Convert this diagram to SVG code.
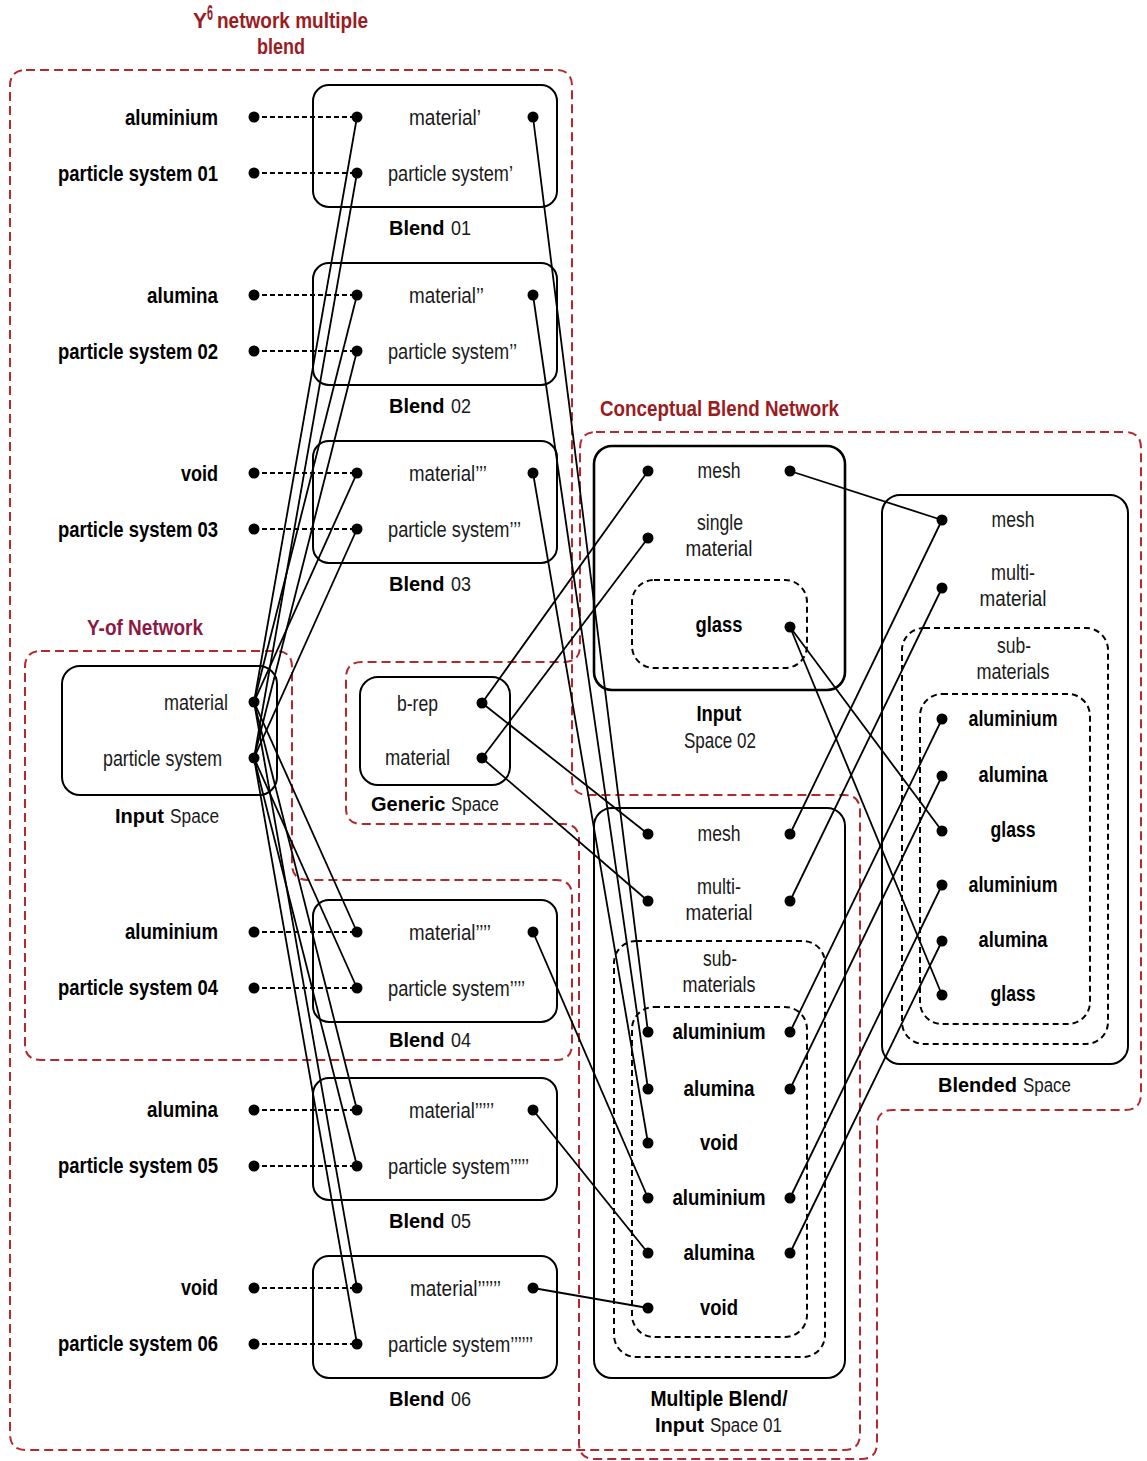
<svg xmlns="http://www.w3.org/2000/svg" width="1147" height="1461" viewBox="0 0 1147 1461">
<style>
text{font-family:"Liberation Sans",Arial,sans-serif;font-size:22px;fill:#1a1a1a}
.b{font-weight:bold;fill:#000}
.t{fill:#9b1c1f;font-weight:bold}
.p{fill:#8a1a45;font-weight:bold}
.m{text-anchor:middle}
.e{text-anchor:end}
.s{font-size:20px}
.red{fill:none;stroke:#b3292e;stroke-width:2;stroke-dasharray:9 5}
.box{fill:none;stroke:#000;stroke-width:2}
.box2{fill:none;stroke:#000;stroke-width:2.6}
.dbox{fill:none;stroke:#000;stroke-width:2;stroke-dasharray:6 4}
.c line{stroke:#000;stroke-width:1.8}
.dl{stroke:#000;stroke-width:1.6;stroke-dasharray:5 3}
circle{fill:#000}
</style>
<rect width="1147" height="1461" fill="#fff"/>

<g id="outlines">
<path class="red" d="M 26,70 H 556 Q 572,70 572,86 V 779 Q 572,795 588,795 H 844 Q 860,795 860,811 V 1434 Q 860,1450 844,1450 H 26 Q 10,1450 10,1434 V 86 Q 10,70 26,70 Z"/>
<path class="red" d="M 596,432 H 1125 Q 1141,432 1141,448 V 1094 Q 1141,1110 1125,1110 H 893 Q 877,1110 877,1126 V 1443 Q 877,1459 861,1459 H 595 Q 579,1459 579,1443 V 840 Q 579,824 563,824 H 362 Q 346,824 346,808 V 678 Q 346,662 362,662 H 564 Q 580,662 580,646 V 448 Q 580,432 596,432 Z"/>
<path class="red" d="M 41,651 H 276 Q 292,651 292,667 V 864 Q 292,880 308,880 H 556 Q 572,880 572,896 V 1044 Q 572,1060 556,1060 H 41 Q 25,1060 25,1044 V 667 Q 25,651 41,651 Z"/>
<text class="t" x="193" y="28" textLength="14" lengthAdjust="spacingAndGlyphs">Y</text>
<text class="t" x="207" y="20" font-size="11" textLength="6" lengthAdjust="spacingAndGlyphs">6</text>
<text class="t" x="217" y="28" textLength="151" lengthAdjust="spacingAndGlyphs">network multiple</text>
<text class="t" x="257" y="54" textLength="48" lengthAdjust="spacingAndGlyphs">blend</text>
<text class="p" x="87" y="635" textLength="116" lengthAdjust="spacingAndGlyphs">Y-of Network</text>
<text class="t" x="600" y="416" textLength="239" lengthAdjust="spacingAndGlyphs">Conceptual Blend Network</text>
</g>

<g id="inputs-left">
<text class="b e" x="218" y="125" textLength="93" lengthAdjust="spacingAndGlyphs">aluminium</text>
<text class="b e" x="218" y="181" textLength="160" lengthAdjust="spacingAndGlyphs">particle system 01</text>
<text class="b e" x="218" y="303" textLength="71" lengthAdjust="spacingAndGlyphs">alumina</text>
<text class="b e" x="218" y="359" textLength="160" lengthAdjust="spacingAndGlyphs">particle system 02</text>
<text class="b e" x="218" y="481" textLength="37" lengthAdjust="spacingAndGlyphs">void</text>
<text class="b e" x="218" y="537" textLength="160" lengthAdjust="spacingAndGlyphs">particle system 03</text>
<text class="b e" x="218" y="939" textLength="93" lengthAdjust="spacingAndGlyphs">aluminium</text>
<text class="b e" x="218" y="995" textLength="160" lengthAdjust="spacingAndGlyphs">particle system 04</text>
<text class="b e" x="218" y="1117" textLength="71" lengthAdjust="spacingAndGlyphs">alumina</text>
<text class="b e" x="218" y="1173" textLength="160" lengthAdjust="spacingAndGlyphs">particle system 05</text>
<text class="b e" x="218" y="1295" textLength="37" lengthAdjust="spacingAndGlyphs">void</text>
<text class="b e" x="218" y="1351" textLength="160" lengthAdjust="spacingAndGlyphs">particle system 06</text>
</g>

<g id="blend01">
<rect class="box" x="313" y="85" width="244" height="122" rx="16"/>
<text x="409" y="125" textLength="72" lengthAdjust="spacingAndGlyphs">material’</text>
<text x="388" y="181" textLength="125" lengthAdjust="spacingAndGlyphs">particle system’</text>
<text class="b s" x="389" y="235">Blend</text>
<text class="s" x="451" y="235" textLength="20" lengthAdjust="spacingAndGlyphs">01</text>
</g>
<g id="blend02">
<rect class="box" x="313" y="263" width="244" height="122" rx="16"/>
<text x="409" y="303" textLength="75" lengthAdjust="spacingAndGlyphs">material’’</text>
<text x="388" y="359" textLength="129" lengthAdjust="spacingAndGlyphs">particle system’’</text>
<text class="b s" x="389" y="413">Blend</text>
<text class="s" x="451" y="413" textLength="20" lengthAdjust="spacingAndGlyphs">02</text>
</g>
<g id="blend03">
<rect class="box" x="313" y="441" width="244" height="122" rx="16"/>
<text x="409" y="481" textLength="78" lengthAdjust="spacingAndGlyphs">material’’’</text>
<text x="388" y="537" textLength="133" lengthAdjust="spacingAndGlyphs">particle system’’’</text>
<text class="b s" x="389" y="591">Blend</text>
<text class="s" x="451" y="591" textLength="20" lengthAdjust="spacingAndGlyphs">03</text>
</g>
<g id="blend04">
<rect class="box" x="313" y="900" width="244" height="122" rx="16"/>
<text x="409" y="940" textLength="82" lengthAdjust="spacingAndGlyphs">material’’’’</text>
<text x="388" y="996" textLength="137" lengthAdjust="spacingAndGlyphs">particle system’’’’</text>
<text class="b s" x="389" y="1047">Blend</text>
<text class="s" x="451" y="1047" textLength="20" lengthAdjust="spacingAndGlyphs">04</text>
</g>
<g id="blend05">
<rect class="box" x="313" y="1078" width="244" height="122" rx="16"/>
<text x="409" y="1118" textLength="85" lengthAdjust="spacingAndGlyphs">material’’’’’</text>
<text x="388" y="1174" textLength="141" lengthAdjust="spacingAndGlyphs">particle system’’’’’</text>
<text class="b s" x="389" y="1228">Blend</text>
<text class="s" x="451" y="1228" textLength="20" lengthAdjust="spacingAndGlyphs">05</text>
</g>
<g id="blend06">
<rect class="box" x="313" y="1256" width="244" height="122" rx="16"/>
<text x="410" y="1296" textLength="91" lengthAdjust="spacingAndGlyphs">material’’’’’’</text>
<text x="388" y="1352" textLength="145" lengthAdjust="spacingAndGlyphs">particle system’’’’’’</text>
<text class="b s" x="389" y="1406">Blend</text>
<text class="s" x="451" y="1406" textLength="20" lengthAdjust="spacingAndGlyphs">06</text>
</g>

<g id="input-space">
<rect class="box" x="62" y="666" width="215" height="129" rx="18"/>
<text x="164" y="710" textLength="64" lengthAdjust="spacingAndGlyphs">material</text>
<text x="103" y="766" textLength="119" lengthAdjust="spacingAndGlyphs">particle system</text>
<text class="b s" x="115" y="823">Input</text>
<text class="s" x="170" y="823" textLength="49" lengthAdjust="spacingAndGlyphs">Space</text>
</g>

<g id="generic-space">
<rect class="box" x="360" y="677" width="150" height="108" rx="18"/>
<text x="397" y="711" textLength="41" lengthAdjust="spacingAndGlyphs">b-rep</text>
<text x="385" y="765" textLength="65" lengthAdjust="spacingAndGlyphs">material</text>
<text class="b s" x="371" y="811">Generic</text>
<text class="s" x="451" y="811" textLength="48" lengthAdjust="spacingAndGlyphs">Space</text>
</g>

<g id="input-space-02">
<rect class="box2" x="594" y="446" width="251" height="244" rx="18"/>
<text class="m" x="719" y="478" textLength="43" lengthAdjust="spacingAndGlyphs">mesh</text>
<text class="m" x="720" y="530" textLength="46" lengthAdjust="spacingAndGlyphs">single</text>
<text class="m" x="719" y="556" textLength="67" lengthAdjust="spacingAndGlyphs">material</text>
<rect class="dbox" x="632" y="580" width="175" height="88" rx="22"/>
<text class="b m" x="719" y="632" textLength="47" lengthAdjust="spacingAndGlyphs">glass</text>
<text class="b m" x="719" y="721" textLength="45" lengthAdjust="spacingAndGlyphs">Input</text>
<text class="m" x="720" y="748" textLength="72" lengthAdjust="spacingAndGlyphs">Space 02</text>
</g>

<g id="multiple-blend">
<rect class="box" x="594" y="808" width="251" height="570" rx="18"/>
<text class="m" x="719" y="841" textLength="43" lengthAdjust="spacingAndGlyphs">mesh</text>
<text class="m" x="719" y="894" textLength="44" lengthAdjust="spacingAndGlyphs">multi-</text>
<text class="m" x="719" y="920" textLength="67" lengthAdjust="spacingAndGlyphs">material</text>
<rect class="dbox" x="614" y="941" width="211" height="416" rx="22"/>
<text class="m" x="720" y="966" textLength="34" lengthAdjust="spacingAndGlyphs">sub-</text>
<text class="m" x="719" y="992" textLength="73" lengthAdjust="spacingAndGlyphs">materials</text>
<rect class="dbox" x="632" y="1007" width="175" height="330" rx="22"/>
<text class="b m" x="719" y="1039" textLength="93" lengthAdjust="spacingAndGlyphs">aluminium</text>
<text class="b m" x="719" y="1096" textLength="71" lengthAdjust="spacingAndGlyphs">alumina</text>
<text class="b m" x="719" y="1150" textLength="38" lengthAdjust="spacingAndGlyphs">void</text>
<text class="b m" x="719" y="1205" textLength="93" lengthAdjust="spacingAndGlyphs">aluminium</text>
<text class="b m" x="719" y="1260" textLength="71" lengthAdjust="spacingAndGlyphs">alumina</text>
<text class="b m" x="719" y="1315" textLength="38" lengthAdjust="spacingAndGlyphs">void</text>
<text class="b m" x="719" y="1406" textLength="137" lengthAdjust="spacingAndGlyphs">Multiple Blend/</text>
<text class="b s" x="655" y="1432">Input</text>
<text class="s" x="710" y="1432" textLength="72" lengthAdjust="spacingAndGlyphs">Space 01</text>
</g>

<g id="blended-space">
<rect class="box" x="882" y="495" width="246" height="569" rx="18"/>
<text class="m" x="1013" y="527" textLength="43" lengthAdjust="spacingAndGlyphs">mesh</text>
<text class="m" x="1013" y="580" textLength="44" lengthAdjust="spacingAndGlyphs">multi-</text>
<text class="m" x="1013" y="606" textLength="67" lengthAdjust="spacingAndGlyphs">material</text>
<rect class="dbox" x="902" y="628" width="206" height="416" rx="22"/>
<text class="m" x="1014" y="653" textLength="34" lengthAdjust="spacingAndGlyphs">sub-</text>
<text class="m" x="1013" y="679" textLength="73" lengthAdjust="spacingAndGlyphs">materials</text>
<rect class="dbox" x="920" y="694" width="170" height="330" rx="22"/>
<text class="b m" x="1013" y="726" textLength="89" lengthAdjust="spacingAndGlyphs">aluminium</text>
<text class="b m" x="1013" y="782" textLength="69" lengthAdjust="spacingAndGlyphs">alumina</text>
<text class="b m" x="1013" y="837" textLength="45" lengthAdjust="spacingAndGlyphs">glass</text>
<text class="b m" x="1013" y="892" textLength="89" lengthAdjust="spacingAndGlyphs">aluminium</text>
<text class="b m" x="1013" y="947" textLength="69" lengthAdjust="spacingAndGlyphs">alumina</text>
<text class="b m" x="1013" y="1001" textLength="45" lengthAdjust="spacingAndGlyphs">glass</text>
<text class="b s" x="938" y="1092">Blended</text>
<text class="s" x="1023" y="1092" textLength="48" lengthAdjust="spacingAndGlyphs">Space</text>
</g>

<g id="connectors" class="c">
<line class="dl" x1="254" y1="117" x2="357" y2="117"/>
<line class="dl" x1="254" y1="173" x2="357" y2="173"/>
<line class="dl" x1="254" y1="295" x2="357" y2="295"/>
<line class="dl" x1="254" y1="351" x2="357" y2="351"/>
<line class="dl" x1="254" y1="473" x2="357" y2="473"/>
<line class="dl" x1="254" y1="529" x2="357" y2="529"/>
<line class="dl" x1="254" y1="932" x2="357" y2="932"/>
<line class="dl" x1="254" y1="988" x2="357" y2="988"/>
<line class="dl" x1="254" y1="1110" x2="357" y2="1110"/>
<line class="dl" x1="254" y1="1166" x2="357" y2="1166"/>
<line class="dl" x1="254" y1="1288" x2="357" y2="1288"/>
<line class="dl" x1="254" y1="1344" x2="357" y2="1344"/>

<line x1="254" y1="702" x2="357" y2="117"/>
<line x1="254" y1="702" x2="357" y2="295"/>
<line x1="254" y1="702" x2="357" y2="473"/>
<line x1="254" y1="702" x2="357" y2="932"/>
<line x1="254" y1="702" x2="357" y2="1110"/>
<line x1="254" y1="702" x2="357" y2="1288"/>
<line x1="254" y1="758" x2="357" y2="173"/>
<line x1="254" y1="758" x2="357" y2="351"/>
<line x1="254" y1="758" x2="357" y2="529"/>
<line x1="254" y1="758" x2="357" y2="988"/>
<line x1="254" y1="758" x2="357" y2="1166"/>
<line x1="254" y1="758" x2="357" y2="1344"/>

<line x1="533" y1="117" x2="648" y2="1032"/>
<line x1="533" y1="295" x2="648" y2="1089"/>
<line x1="533" y1="473" x2="648" y2="1143"/>
<line x1="533" y1="932" x2="648" y2="1198"/>
<line x1="533" y1="1110" x2="648" y2="1253"/>
<line x1="533" y1="1288" x2="648" y2="1308"/>

<line x1="482" y1="703" x2="648" y2="471"/>
<line x1="482" y1="703" x2="648" y2="834"/>
<line x1="482" y1="758" x2="648" y2="538"/>
<line x1="482" y1="758" x2="648" y2="901"/>

<line x1="790" y1="471" x2="942" y2="520"/>
<line x1="790" y1="627" x2="942" y2="831"/>
<line x1="790" y1="627" x2="942" y2="995"/>
<line x1="790" y1="834" x2="942" y2="520"/>
<line x1="790" y1="901" x2="942" y2="588"/>
<line x1="790" y1="1032" x2="942" y2="719"/>
<line x1="790" y1="1089" x2="942" y2="776"/>
<line x1="790" y1="1198" x2="942" y2="885"/>
<line x1="790" y1="1253" x2="942" y2="941"/>
</g>

<g id="dots">
<circle cx="254" cy="117" r="5.5"/><circle cx="254" cy="173" r="5.5"/>
<circle cx="254" cy="295" r="5.5"/><circle cx="254" cy="351" r="5.5"/>
<circle cx="254" cy="473" r="5.5"/><circle cx="254" cy="529" r="5.5"/>
<circle cx="254" cy="932" r="5.5"/><circle cx="254" cy="988" r="5.5"/>
<circle cx="254" cy="1110" r="5.5"/><circle cx="254" cy="1166" r="5.5"/>
<circle cx="254" cy="1288" r="5.5"/><circle cx="254" cy="1344" r="5.5"/>
<circle cx="357" cy="117" r="5.5"/><circle cx="357" cy="173" r="5.5"/>
<circle cx="357" cy="295" r="5.5"/><circle cx="357" cy="351" r="5.5"/>
<circle cx="357" cy="473" r="5.5"/><circle cx="357" cy="529" r="5.5"/>
<circle cx="357" cy="932" r="5.5"/><circle cx="357" cy="988" r="5.5"/>
<circle cx="357" cy="1110" r="5.5"/><circle cx="357" cy="1166" r="5.5"/>
<circle cx="357" cy="1288" r="5.5"/><circle cx="357" cy="1344" r="5.5"/>
<circle cx="533" cy="117" r="5.5"/><circle cx="533" cy="295" r="5.5"/>
<circle cx="533" cy="473" r="5.5"/><circle cx="533" cy="932" r="5.5"/>
<circle cx="533" cy="1110" r="5.5"/><circle cx="533" cy="1288" r="5.5"/>
<circle cx="254" cy="702" r="5.5"/><circle cx="254" cy="758" r="5.5"/>
<circle cx="482" cy="703" r="5.5"/><circle cx="482" cy="758" r="5.5"/>
<circle cx="648" cy="471" r="5.5"/><circle cx="790" cy="471" r="5.5"/>
<circle cx="648" cy="538" r="5.5"/><circle cx="790" cy="627" r="5.5"/>
<circle cx="648" cy="834" r="5.5"/><circle cx="790" cy="834" r="5.5"/>
<circle cx="648" cy="901" r="5.5"/><circle cx="790" cy="901" r="5.5"/>
<circle cx="648" cy="1032" r="5.5"/><circle cx="790" cy="1032" r="5.5"/>
<circle cx="648" cy="1089" r="5.5"/><circle cx="790" cy="1089" r="5.5"/>
<circle cx="648" cy="1143" r="5.5"/>
<circle cx="648" cy="1198" r="5.5"/><circle cx="790" cy="1198" r="5.5"/>
<circle cx="648" cy="1253" r="5.5"/><circle cx="790" cy="1253" r="5.5"/>
<circle cx="648" cy="1308" r="5.5"/>
<circle cx="942" cy="520" r="5.5"/><circle cx="942" cy="588" r="5.5"/>
<circle cx="942" cy="719" r="5.5"/><circle cx="942" cy="776" r="5.5"/>
<circle cx="942" cy="831" r="5.5"/><circle cx="942" cy="885" r="5.5"/>
<circle cx="942" cy="941" r="5.5"/><circle cx="942" cy="995" r="5.5"/>
</g>
</svg>
